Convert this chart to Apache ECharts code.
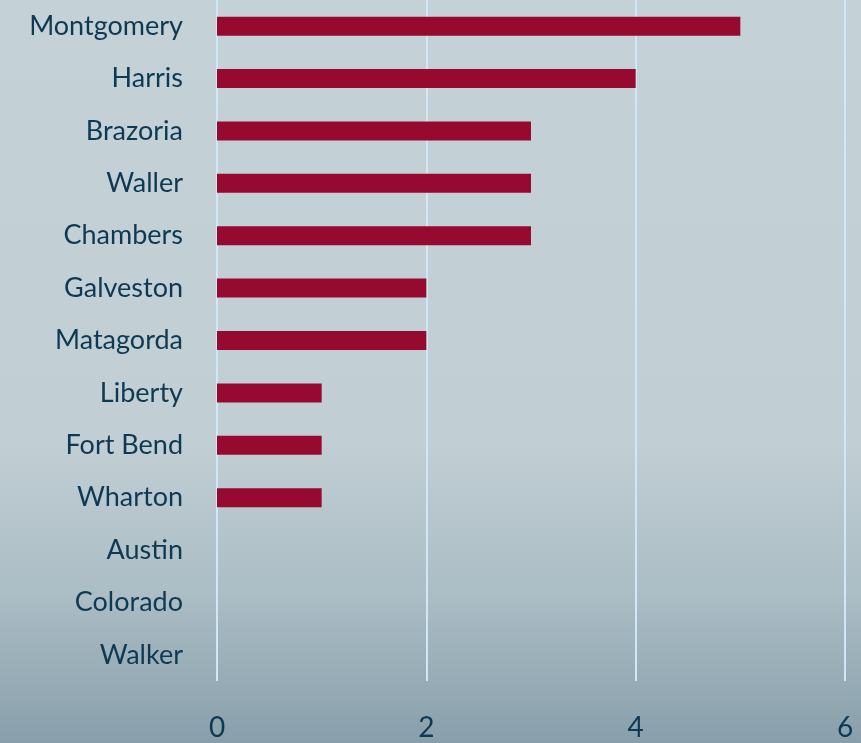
<!DOCTYPE html>
<html><head><meta charset="utf-8">
<script src="https://cdn.jsdelivr.net/npm/echarts@6/dist/echarts.min.js"></script>
<style>html,body{margin:0;padding:0;}#c{width:861px;height:743px;}</style>
</head><body><div id="c"></div>
<script>
var categories = ["Montgomery","Harris","Brazoria","Waller","Chambers","Galveston","Matagorda","Liberty","Fort Bend","Wharton","Austin","Colorado","Walker"];
var values = [5,4,3,3,3,2,2,1,1,1,0,0,0];
var xTicks = [0,2,4,6];

var chart = echarts.init(document.getElementById('c'));
chart.setOption({
  backgroundColor: {type:'linear',x:0,y:0,x2:0,y2:1,colorStops:[
    {offset:0,color:'#c4d1d7'},{offset:0.6,color:'#c1ced4'},{offset:0.8,color:'#abbdc5'},{offset:1,color:'#889fab'}]},
  grid:{left:217,right:16,top:0,bottom:62,containLabel:false},
  xAxis:{type:'value',min:xTicks[0],max:xTicks[xTicks.length-1],interval:2,
    axisLine:{show:false},axisTick:{show:false},
    splitLine:{show:true,lineStyle:{color:'#cfe7f6',width:2}},
    axisLabel:{color:'#0d3a52',fontSize:28,fontFamily:'Lato',margin:33}},
  yAxis:{type:'category',data:categories,inverse:true,
    axisLine:{show:false},axisTick:{show:false},
    axisLabel:{color:'#0d3a52',fontSize:27,fontFamily:'Lato',margin:34}},
  series:[{type:'bar',data:values,barWidth:19,
    itemStyle:{color:'#960a2f',borderWidth:0},silent:true}]
});
</script></body></html>
